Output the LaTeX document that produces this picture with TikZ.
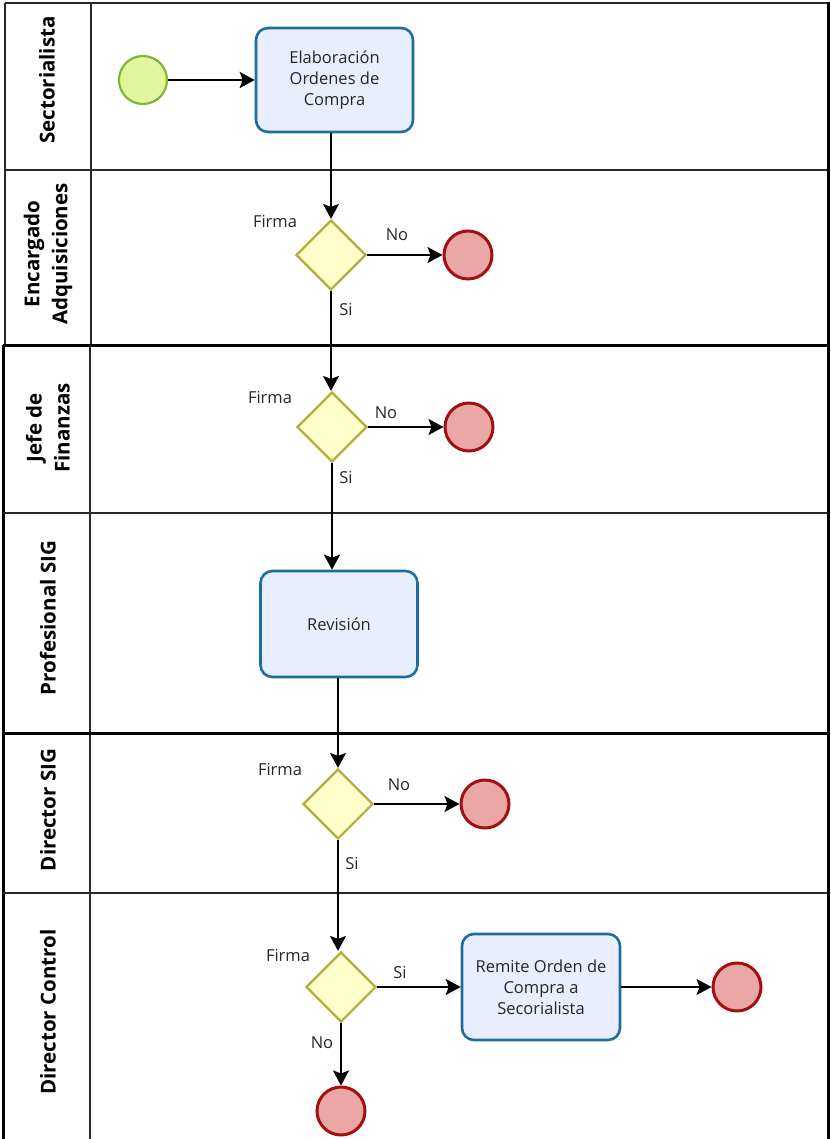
\documentclass[tikz,border=0pt]{standalone}
\usepackage{fontspec}
\setmainfont{Open Sans}
\usetikzlibrary{shapes.geometric,arrows.meta}

\definecolor{startfill}{HTML}{E2F79C}
\definecolor{startline}{HTML}{7DB92E}
\definecolor{taskfill}{HTML}{E8EEFD}
\definecolor{taskline}{HTML}{1C6E9C}
\definecolor{gatefill}{HTML}{FFFFCC}
\definecolor{gateline}{HTML}{B0B03A}
\definecolor{endfill}{HTML}{EBA6A6}
\definecolor{endline}{HTML}{A50F0F}
\definecolor{lanegray}{HTML}{2A2A2A}

\tikzset{
  startev/.style={circle, draw=startline, fill=startfill, line width=2.2pt, minimum size=48pt, inner sep=0pt},
  endev/.style={circle, draw=endline, fill=endfill, line width=3pt, minimum size=48pt, inner sep=0pt},
  task/.style={rectangle, rounded corners=12pt, draw=taskline, fill=taskfill, line width=2.6pt,
    align=center, font=\fontsize{16.5}{21}\selectfont, text=black!85, inner sep=2pt},
  gate/.style={diamond, aspect=1, draw=gateline, fill=gatefill, line width=2.2pt,
    minimum width=70pt, minimum height=70pt, inner sep=0pt},
  lbl/.style={font=\fontsize{16.5}{18}\selectfont, text=black!85, inner sep=0pt},
  lanetitle/.style={rotate=90, align=center, font=\fontsize{20.5}{28}\selectfont\bfseries, inner sep=0pt},
  flow/.style={draw=black, line width=1.4pt, -{Stealth[length=15pt,width=16pt,inset=3pt]}},
  flowthick/.style={draw=black, line width=2.6pt, -{Stealth[length=15pt,width=16pt,inset=3pt]}},
  laneline/.style={draw=lanegray, line width=1.4pt},
  poolline/.style={draw=black, line width=3pt},
}

\begin{document}
\begin{tikzpicture}[x=1pt, y=-1pt]
\useasboundingbox (0,0) rectangle (830,1139);
\clip (0,0) rectangle (830,1139);

% upper pool: Sectorialista / Encargado Adquisiciones
\draw[laneline] (5,3) -- (828,3);
\draw[laneline] (5,3) -- (5,345);
\draw[laneline] (91,3) -- (91,345);
\draw[laneline] (5,170) -- (828,170);

% lower pool
\draw[poolline] (3,345) -- (828,345);
\draw[poolline] (3,345) -- (3,1145);
\draw[laneline] (90,345) -- (90,1145);
\draw[laneline] (3,513) -- (828,513);
\draw[poolline] (3,733) -- (828,733);
\draw[laneline] (3,893) -- (828,893);
\draw[poolline] (828,2) -- (828,1145);

% lane titles
\node[lanetitle] (l1) at (47,80) {Sectorialista};
\node[lanetitle] (l2) at (48,254) {Encargado\\Adquisiciones};
\node[lanetitle] (l3) at (48,428) {Jefe de\\Finanzas};
\node[lanetitle] (l4) at (48,618) {Profesional SIG};
\node[lanetitle] (l5) at (48,810) {Director SIG};
\node[lanetitle] (l6) at (48,1012) {Director Control};

% Sectorialista
\node[startev] (start) at (143,80) {};
\node[task, minimum width=157pt, minimum height=104pt] (t1) at (334.5,80) {Elaboración\\Ordenes de\\Compra};

% Encargado Adquisiciones
\node[gate] (g1) at (331,255) {};
\node[endev] (e1) at (468,255) {};
\node[lbl] (f1) at (275,222) {Firma};
\node[lbl] (n1) at (397,235) {No};
\node[lbl] (s1) at (346,310) {Si};

% Jefe de Finanzas
\node[gate] (g2) at (332,427) {};
\node[endev] (e2) at (469,427) {};
\node[lbl] (f2) at (270,398) {Firma};
\node[lbl] (n2) at (386,413) {No};
\node[lbl] (s2) at (346,478) {Si};

% Profesional SIG
\node[task, minimum width=157pt, minimum height=106pt] (t2) at (339,624) {Revisión};

% Director SIG
\node[gate] (g3) at (338,804) {};
\node[endev] (e3) at (485,804) {};
\node[lbl] (f3) at (280,770) {Firma};
\node[lbl] (n3) at (399,785) {No};
\node[lbl] (s3) at (352,864) {Si};

% Director Control
\node[gate] (g4) at (341,987) {};
\node[task, minimum width=158pt, minimum height=106pt] (t3) at (541,987) {Remite Orden de\\Compra a\\Secorialista};
\node[endev] (e4) at (737,987) {};
\node[endev] (e5) at (341,1111) {};
\node[lbl] (f4) at (288,956) {Firma};
\node[lbl] (s4) at (400,973) {Si};
\node[lbl] (n4) at (322,1043) {No};

% sequence flows
\draw[flowthick] (start) -- (t1);
\draw[flow] (g1.north |- t1.south) -- (g1.north);
\draw[flow] (g1.east) -- (e1);
\draw[flow] (g1.south) -- (g2.north -| g1.south);
\draw[flow, line width=2pt] (g2.east) -- (e2);
\draw[flowthick] (g2.south) -- (g2.south |- t2.north);
\draw[flow] (g3.north |- t2.south) -- (g3.north);
\draw[flow] (g3.east) -- (e3);
\draw[flow] (g3.south) -- (g4.north -| g3.south);
\draw[flow] (g4.east) -- (t3.west);
\draw[flow] (t3.east) -- (e4);
\draw[flowthick] (g4.south) -- (e5);
\end{tikzpicture}
\end{document}
